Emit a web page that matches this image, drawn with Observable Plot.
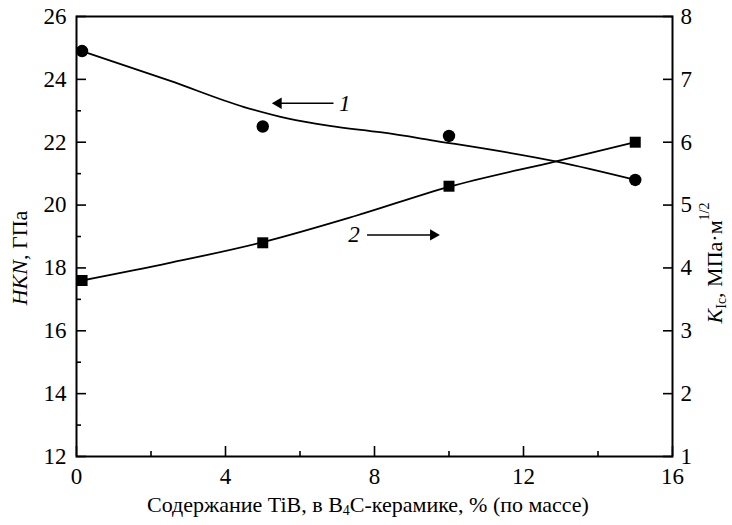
<!DOCTYPE html>
<html>
<head>
<meta charset="utf-8">
<script src="https://cdn.jsdelivr.net/npm/d3@7"></script>
<script src="https://cdn.jsdelivr.net/npm/@observablehq/plot@0.6"></script>
<style>
  html, body { margin: 0; padding: 0; background: #fff; }
  #chart svg { display: block; }
</style>
</head>
<body>
<div id="chart"></div>
<script>
// Measured points
const pointX = [0.15, 5, 10, 15];
const hknValues = [24.9, 22.5, 22.2, 20.8];      // HKN, GPa (left axis) - curve 1
const kicValues = [3.8, 4.4, 5.3, 6.0];          // K_Ic, MPa·m^1/2 (right axis) - curve 2

// Fitted curves
const curve1X = [0.15, 2.5, 4.5, 5.66, 6.8, 8.2, 9.5, 12.9, 15];
const curve1Y = [24.9, 23.96, 23.12, 22.76, 22.52, 22.31, 22.07, 21.38, 20.8];
const curve2X = [0.15, 2.5, 5, 7.5, 10, 12.9, 15];
const curve2Y = [3.8, 4.08, 4.41, 4.83, 5.29, 5.70, 6.0];

// Ticks
const xMajor = [0, 4, 8, 12, 16];
const xMinor = [2, 6, 10, 14];
const yMajor = [12, 14, 16, 18, 20, 22, 24, 26];
const yMinor = [13, 15, 17, 19, 21, 23, 25];
const rightTicks = [1, 2, 3, 4, 5, 6, 7, 8];

// Annotations (curve number labels and arrows)
const annLabels = ["1", "2"];
const annLabelX = [7.2, 7.45];
const annLabelY = [23.24, 19.05];
const arrowFrom = [6.9, 7.8];
const arrowTo = [5.42, 9.58];
const arrowY = [23.24, 19.05];

// right axis K (1..8) mapped onto left HKN (12..26)
const k2h = k => 12 + (k - 1) * 2;

const pts1 = pointX.map((x, i) => ({x, y: hknValues[i]}));
const pts2 = pointX.map((x, i) => ({x, y: kicValues[i]}));
const c1 = curve1X.map((x, i) => ({x, y: curve1Y[i]}));
const c2 = curve2X.map((x, i) => ({x, y: curve2Y[i]}));
const ann = annLabels.map((t, i) => ({t, x: annLabelX[i], y: annLabelY[i]}));
const arrows = arrowFrom.map((x1, i) => ({x1, x2: arrowTo[i], y: arrowY[i], dir: arrowTo[i] < x1 ? -1 : 1}));

const FONT = "Liberation Serif";

const plot = Plot.plot({
  width: 732,
  height: 525,
  marginLeft: 76,
  marginRight: 60,
  marginTop: 16,
  marginBottom: 69,
  style: {fontFamily: FONT, fontSize: "23px", color: "black", background: "white"},
  x: {domain: [0, 16]},
  y: {domain: [12, 26]},
  marks: [
    Plot.frame({stroke: "black", strokeWidth: 2}),
    Plot.axisX({ticks: xMajor, tickSize: -10, tickPadding: 21, strokeWidth: 1.6, label: null, fontSize: 23, fontFamily: FONT}),
    Plot.axisX({ticks: xMinor, tickSize: -5, tickFormat: () => "", strokeWidth: 1.6, label: null}),
    Plot.axisY({ticks: yMajor, tickSize: -10, tickPadding: 20, strokeWidth: 1.6, label: null, fontSize: 23, fontFamily: FONT}),
    Plot.axisY({ticks: yMinor, tickSize: -5, tickFormat: () => "", strokeWidth: 1.6, label: null}),
    Plot.axisY({anchor: "right", ticks: rightTicks.map(k2h), tickSize: -10, tickPadding: 18, strokeWidth: 1.6,
      tickFormat: v => String((v - 12) / 2 + 1), label: null, fontSize: 23, fontFamily: FONT}),
    Plot.line(c1, {x: "x", y: "y", curve: "monotone-x", stroke: "black", strokeWidth: 1.8}),
    Plot.line(c2, {x: "x", y: d => k2h(d.y), curve: "monotone-x", stroke: "black", strokeWidth: 1.8}),
    Plot.dot(pts1, {x: "x", y: "y", r: 6.2, fill: "black", stroke: "none"}),
    Plot.dot(pts2, {x: "x", y: d => k2h(d.y), r: 6.2, symbol: "square", fill: "black", stroke: "none"}),
    Plot.link(arrows, {x1: "x1", x2: "x2", y1: "y", y2: "y", stroke: "black", strokeWidth: 1.6}),
    Plot.dot(arrows, {x: "x2", y: "y", symbol: "triangle", r: 4.2, fill: "black", stroke: "none",
      rotate: d => d.dir < 0 ? -90 : 90}),
    Plot.text(ann, {x: "x", y: "y", text: "t", fontStyle: "italic", fontSize: 23, textAnchor: "middle", fontFamily: FONT})
  ]
});

document.getElementById("chart").appendChild(plot);

const svg = d3.select(plot);

// Left axis label
const tl = svg.append("text")
  .attr("transform", "translate(22,258) rotate(-90)")
  .attr("text-anchor", "middle").attr("dominant-baseline", "middle")
  .attr("font-size", 22).attr("fill", "black");
tl.append("tspan").attr("font-style", "italic").text("HKN");
tl.append("tspan").text(", ГПа");

// Right axis label
const tr = svg.append("text")
  .attr("transform", "translate(717,263) rotate(-90)")
  .attr("text-anchor", "middle").attr("dominant-baseline", "middle")
  .attr("font-size", 22).attr("fill", "black");
tr.append("tspan").attr("font-style", "italic").text("K");
tr.append("tspan").attr("font-size", 14).attr("dy", 6).text("Ic");
tr.append("tspan").attr("dy", -6).text(", МПа·м");
tr.append("tspan").attr("font-size", 14).attr("dy", -11).text("1/2");

// X axis label
const tx = svg.append("text")
  .attr("x", 368).attr("y", 507)
  .attr("text-anchor", "middle").attr("dominant-baseline", "middle")
  .attr("font-size", 22).attr("fill", "black");
tx.append("tspan").text("Содержание TiB, в B");
tx.append("tspan").attr("font-size", 14).attr("dy", 5).text("4");
tx.append("tspan").attr("dy", -5).text("C-керамике, % (по массе)");

// use the serif family on every text element
svg.attr("font-family", FONT);
svg.selectAll("text, tspan").attr("font-family", FONT);
</script>
</body>
</html>
